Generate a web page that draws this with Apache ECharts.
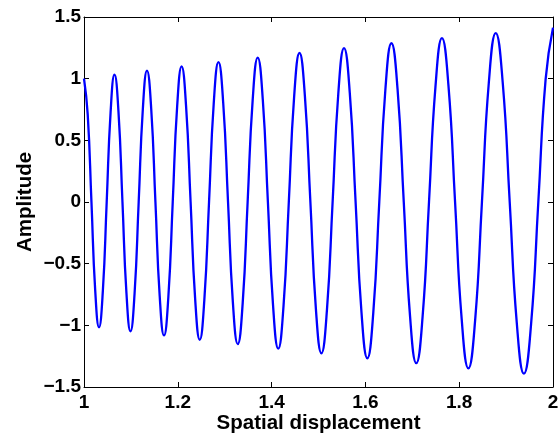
<!DOCTYPE html>
<html>
<head>
<meta charset="utf-8">
<script src="https://cdn.jsdelivr.net/npm/echarts@6/dist/echarts.min.js"></script>
<style>html,body{margin:0;padding:0;background:#fff}#c{width:558px;height:435px}</style>
</head>
<body>
<div id="c"></div>
<script>
// Values
const xValues = [1.0000,1.0079,1.0159,1.0239,1.0320,1.0402,1.0484,1.0567,1.0650,1.0735,1.0820,1.0905,1.0991,1.1078,1.1166,1.1254,1.1343,1.1433,1.1523,1.1614,1.1706,1.1799,1.1892,1.1986,1.2081,1.2176,1.2273,1.2370,1.2468,1.2566,1.2666,1.2766,1.2867,1.2968,1.3071,1.3174,1.3279,1.3384,1.3489,1.3596,1.3704,1.3812,1.3921,1.4031,1.4142,1.4254,1.4367,1.4480,1.4595,1.4710,1.4827,1.4944,1.5062,1.5181,1.5301,1.5422,1.5544,1.5667,1.5791,1.5916,1.6042,1.6168,1.6296,1.6425,1.6555,1.6686,1.6818,1.6951,1.7085,1.7220,1.7356,1.7494,1.7632,1.7771,1.7912,1.8053,1.8196,1.8340,1.8485,1.8631,1.8779,1.8927,1.9077,1.9228,1.9380,1.9533,1.9687,1.9843,2.0000];
const yValues = [1.000,0.710,0,-0.716,-1.016,-0.721,0,0.727,1.032,0.733,0,-0.738,-1.048,-0.744,0,0.750,1.065,0.756,0,-0.762,-1.082,-0.768,0,0.774,1.099,0.780,0,-0.786,-1.117,-0.793,0,0.799,1.134,0.805,0,-0.812,-1.152,-0.818,0,0.824,1.171,0.831,0,-0.838,-1.189,-0.844,0,0.851,1.208,0.858,0,-0.864,-1.227,-0.871,0,0.878,1.247,0.885,0,-0.892,-1.267,-0.899,0,0.906,1.287,0.913,0,-0.921,-1.307,-0.928,0,0.935,1.328,0.943,0,-0.950,-1.349,-0.958,0,0.965,1.370,0.973,0,-0.981,-1.392,-0.988,0,0.996,1.414];
const xTicks = [1, 1.2, 1.4, 1.6, 1.8, 2];
const yTicks = [-1.5, -1, -0.5, 0, 0.5, 1, 1.5];
const xTitle = 'Spatial displacement';
const yTitle = 'Amplitude';

const points = xValues.map((x, i) => [x, yValues[i]]);
const font = 'Liberation Sans, Arial, Helvetica, sans-serif';
const fmt = v => {
  const r = Math.round(v * 10) / 10;
  return (r < 0 ? '\u2212' + String(-r) : String(r));
};
const lineStyle = { color: '#000', width: 1 };
const tickStyle = { show: true, inside: true, length: 5, lineStyle: { color: '#000', width: 1 } };
const titleStyle = { color: '#000', fontFamily: font, fontWeight: 'bold', fontSize: 20.5 };

const chart = echarts.init(document.getElementById('c'), null, { renderer: 'canvas' });
chart.setOption({
  animation: false,
  backgroundColor: '#fff',
  grid: { left: 84, right: 5, top: 17, bottom: 48, show: false, containLabel: false, outerBoundsMode: 'none' },
  xAxis: [{
    type: 'value', min: xTicks[0], max: xTicks[xTicks.length - 1], interval: 0.2,
    position: 'bottom',
    axisLine: { show: true, onZero: false, lineStyle },
    axisTick: tickStyle,
    splitLine: { show: false },
    axisLabel: { formatter: fmt, color: '#000', fontFamily: font, fontWeight: 'bold', fontSize: 19, margin: 6 },
    name: xTitle, nameLocation: 'middle', nameGap: 26, nameMoveOverlap: false,
    nameTextStyle: titleStyle
  }, {
    type: 'value', min: xTicks[0], max: xTicks[xTicks.length - 1], interval: 0.2,
    position: 'top',
    axisLine: { show: true, onZero: false, lineStyle },
    axisTick: tickStyle,
    splitLine: { show: false },
    axisLabel: { show: false }
  }],
  yAxis: [{
    type: 'value', min: yTicks[0], max: yTicks[yTicks.length - 1], interval: 0.5,
    position: 'left',
    axisLine: { show: true, onZero: false, lineStyle },
    axisTick: tickStyle,
    splitLine: { show: false },
    axisLabel: { formatter: fmt, color: '#000', fontFamily: font, fontWeight: 'bold', fontSize: 19, margin: 3 },
    name: yTitle, nameLocation: 'middle', nameGap: 48, nameMoveOverlap: false,
    nameTextStyle: titleStyle
  }, {
    type: 'value', min: yTicks[0], max: yTicks[yTicks.length - 1], interval: 0.5,
    position: 'right',
    axisLine: { show: true, onZero: false, lineStyle },
    axisTick: tickStyle,
    splitLine: { show: false },
    axisLabel: { show: false }
  }],
  series: [{
    type: 'line',
    xAxisIndex: 0, yAxisIndex: 0,
    data: points,
    showSymbol: false,
    smooth: 0.5,
    lineStyle: { color: '#0000ff', width: 2.3 },
    clip: true
  }]
});
</script>
</body>
</html>
